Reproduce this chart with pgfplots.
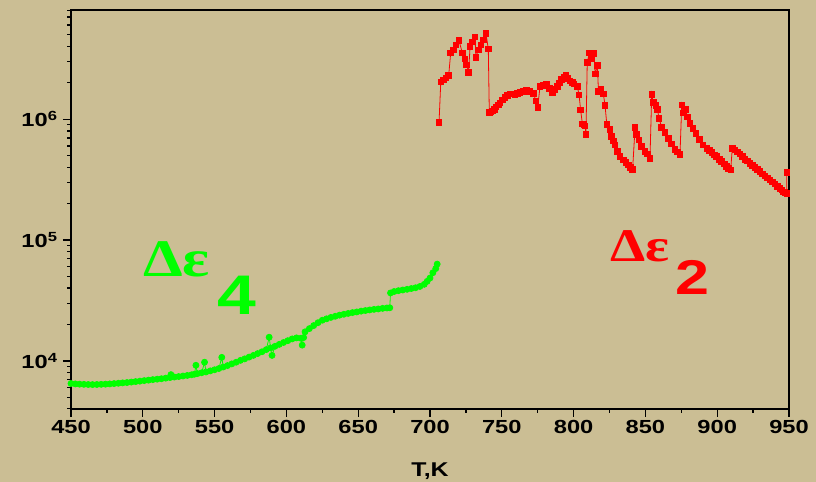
\documentclass[border=0pt]{standalone}
\usepackage{fontspec}
\setmainfont{Liberation Sans}
\newfontfamily\widesans[FakeStretch=1.25]{Liberation Sans}
\newfontfamily\greekserif[FakeStretch=1.2]{Liberation Serif}
\usepackage{pgfplots}
\pgfplotsset{compat=1.18}
\definecolor{parch}{RGB}{203,190,148}
\definecolor{pgreen}{RGB}{0,255,0}
\definecolor{pred}{RGB}{255,0,0}
\begin{document}
\begin{tikzpicture}
\useasboundingbox (0bp,0bp) rectangle (816bp,482bp);
\fill[parch] (0bp,0bp) rectangle (816bp,482bp);
\begin{axis}[
  at={(71bp,73bp)}, anchor=south west,
  scale only axis, width=718bp, height=399bp,
  xmin=450, xmax=950, ymode=log, ymin=4000, ymax=8e6,
  xtick={450,500,...,950},
  ytick={1e4,1e5,1e6}, yticklabels={10\textsuperscript{4},10\textsuperscript{5},10\textsuperscript{6}},
  tick pos=left, tick align=outside,
  major tick length=8bp,
  axis line style={line width=1.5bp},
  every tick/.append style={black, line width=1.3bp},
  tick label style={font=\widesans\fontsize{19}{22}\selectfont\bfseries},
  xticklabel style={/pgf/number format/assume math mode=true, /pgf/number format/1000 sep={}},
  yticklabel style={xshift=-2bp},
  clip=false,
]
\addplot[color=pgreen, line width=0.8bp, mark=*, mark size=3bp, mark options={fill=pgreen, draw=pgreen}] coordinates {
(450,6500)(453,6450)(456,6420)(459,6400)(462,6380)(465,6370)(468,6380)(471,6400)(474,6420)(477,6450)
(480,6490)(483,6530)(486,6580)(489,6620)(492,6680)(495,6740)(498,6800)(501,6870)(504,6930)(507,7000)
(510,7060)(513,7120)(516,7200)(519,7280)(519.6,7700)(522,7350)(525,7420)(528,7500)(531,7580)(534,7680)
(536,7760)(537,9200)(538,7850)(541,7980)(543,9750)(544,8100)(547,8270)(550,8450)(553,8650)(555,10700)
(556,8900)(559,9150)(562,9450)(565,9750)(568,10100)(571,10400)(574,10750)(577,11100)(580,11500)(583,11900)
(586,12400)(588,15700)(589,12800)(590,11100)(592,13200)(595,13700)(598,14200)(601,14700)(604,15200)(607,15500)
(610,15400)(611,13500)(612,15600)(613,17400)(616,18500)(619,19600)(622,20700)(625,21700)(628,22300)(631,22900)
(634,23400)(637,23900)(640,24300)(643,24700)(646,25100)(649,25400)(652,25800)(655,26100)(658,26400)(661,26700)
(664,26900)(667,27200)(670,27400)(672,27500)(672.5,36500)(675,37500)(678,38100)(681,38600)(684,39100)(687,39700)
(690,40300)(693,41300)(696,43000)(698,45500)(700,48500)(702,53600)(704,58000)(705,63200)
};
\addplot[color=pred, line width=0.8bp, mark=square*, mark size=2.8bp, mark options={fill=pred, draw=pred}] coordinates {
(706.3,944000)(707.5,2030000)(709.3,2120000)(711.1,2190000)(713.0,2290000)(714.4,3520000)(716.2,3750000)
(718.1,4130000)(720.2,4480000)(722.5,3520000)(724.2,3140000)(725.5,2820000)(726.9,2450000)(727.9,4000000)
(729.5,4350000)(731.3,4780000)(732,3240000)(733.6,3750000)(735.5,4130000)(737.1,4540000)(739,5100000)
(740.6,3800000)(741.3,1140000)(742.5,1150000)(743.6,1170000)(745,1210000)(746,1260000)(747.5,1310000)
(748.7,1360000)(750.5,1440000)(752.2,1520000)(754,1580000)(755.7,1620000)(757.5,1620000)(759.2,1590000)
(761,1640000)(762.7,1660000)(765,1700000)(767.3,1750000)(769.5,1700000)(771.9,1640000)(773.8,1420000)
(775,1250000)(776.6,1860000)(779,1900000)(781.2,1960000)(783.3,1800000)(785.4,1660000)(787,1760000)
(788.6,1860000)(790,2000000)(791.7,2140000)(793.2,2220000)(794.7,2290000)(796,2180000)(797.5,2070000)
(799,2010000)(800.3,1960000)(802.6,1860000)(803.8,1590000)(804.9,1190000)(806.1,914000)(807.2,900000)
(808.0,880000)(808.6,752000)(809.5,2940000)(810.9,3520000)(812.6,3140000)(814.2,3480000)(815,2360000)
(816.6,2770000)(817.3,1690000)(819,1780000)(820.7,1620000)(821.9,1300000)(823.1,910000)(825.4,827000)
(826.5,718000)(827.7,660000)(828.8,612000)(830.7,539000)(832.3,490000)(834.6,460000)(836.3,437000)
(838.1,418000)(839.6,400000)(841.1,385000)(842.8,851000)(843.9,752000)(845.5,674000)(847.4,593000)
(849.7,539000)(851.3,516000)(853.2,475000)(854.4,1610000)(855.5,1380000)(857.4,1300000)(858.3,1210000)
(859.5,1020000)(861.3,859000)(863.6,780000)(865.9,696000)(868.3,624000)(870.6,564000)(872.4,535000)
(874.1,513000)(875.3,1310000)(876.4,1130000)(878.1,1210000)(879.2,1040000)(881.1,927000)(883,842000)
(885.2,765000)(887.5,683000)(889.9,612000)(892.7,575000)(894.5,550000)(896.2,529000)(897.9,508000)
(899.6,490000)(901.4,467000)(903.1,445000)(904.9,425000)(906.6,405000)(908,392000)(909.4,380000)
(910.5,575000)(912.4,557000)(914.2,536000)(915.9,516000)(917.7,490000)(919.4,467000)(921.1,450000)
(922.8,432000)(924.6,415000)(926.3,400000)(928,384000)(929.8,368000)(931.5,353000)(933.3,339000)
(935,326000)(936.8,314000)(938.5,302000)(940.3,291000)(942,279000)(943.7,268000)(945,259000)
(946,251000)(947.2,247000)(948.4,244000)(948.5,361000)
};
\end{axis}
% tick marks (axis frame decoration)
\foreach \t in {71,142.8,214.6,286.4,358.2,430,501.8,573.6,645.4,717.2,789}
  \fill[black] (\t bp-0.65bp,73bp) rectangle (\t bp+0.65bp,65bp);
\foreach \t in {106.9,178.7,250.5,322.3,394.1,465.9,537.7,609.5,681.3,753.1}
  \fill[black] (\t bp-0.65bp,73bp) rectangle (\t bp+0.65bp,68.5bp);
\foreach \t in {121.1,241.97,362.84}
  \fill[black] (71bp,\t bp-0.65bp) rectangle (63bp,\t bp+0.65bp);
\foreach \t in {73.6,84.71,94.29,102.38,109.39,115.57,157.49,178.77,193.87,205.58,215.16,223.25,230.26,236.44,278.36,299.64,314.74,326.45,336.03,344.12,351.13,357.31,399.23,420.51,435.61,447.32,456.9,464.99,471.4}
  \fill[black] (71bp,\t bp-0.65bp) rectangle (66.5bp,\t bp+0.65bp);
\node[anchor=base west, inner sep=0, text=pgreen, font=\greekserif\fontsize{53}{60}\selectfont\bfseries] at (143bp,205bp) {Δε};
\node[anchor=base west, inner sep=0, text=pgreen, font=\widesans\fontsize{56}{60}\selectfont\bfseries] at (217bp,167.5bp) {4};
\node[anchor=base west, inner sep=0, text=pred, font=\greekserif\fontsize{47}{52}\selectfont\bfseries] at (610bp,220bp) {Δε};
\node[anchor=base west, inner sep=0, text=pred, font=\widesans\fontsize{49}{52}\selectfont\bfseries] at (675bp,187bp) {2};
\node[anchor=base, inner sep=0, font=\widesans\fontsize{20}{22}\selectfont\bfseries] at (430bp,6bp) {T,K};
\end{tikzpicture}
\end{document}
